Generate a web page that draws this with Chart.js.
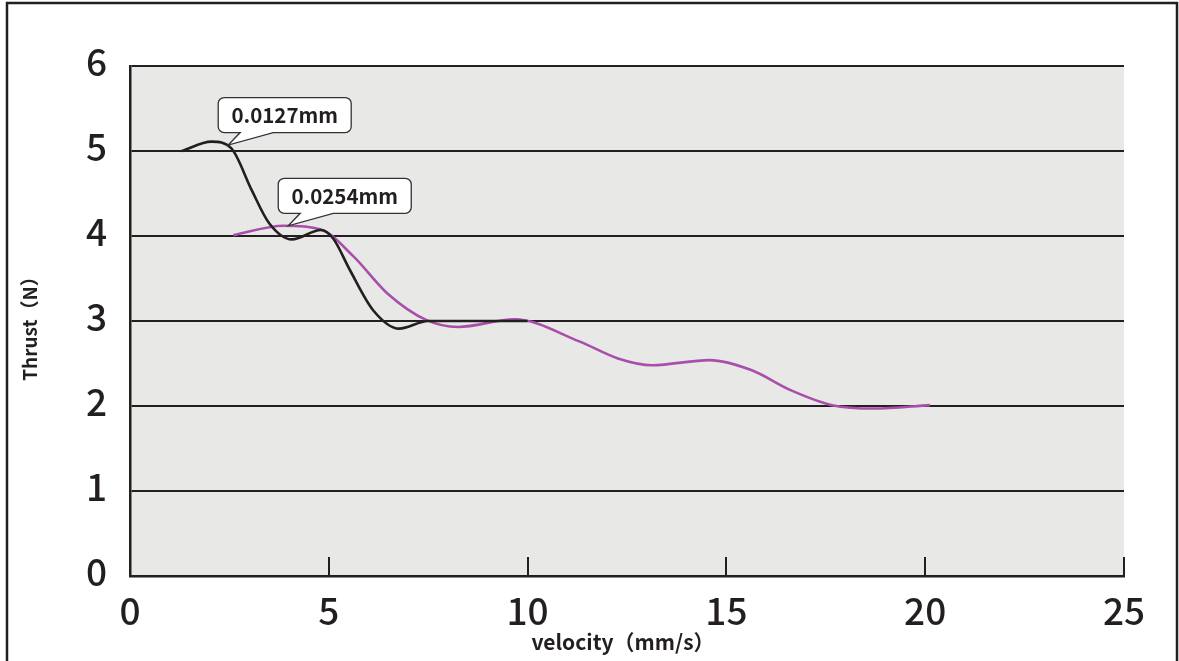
<!DOCTYPE html>
<html>
<head>
<meta charset="UTF-8">
<title>Thrust vs velocity</title>
<script src="https://cdn.jsdelivr.net/npm/chart.js"></script>
<style>
  html, body { margin: 0; padding: 0; background: #ffffff; }
  #wrap { width: 1179px; height: 661px; position: relative; }
</style>
</head>
<body>
<div id="wrap"><canvas id="chart" width="1179" height="661"></canvas></div>
<script>
// data
const seriesNames = ['0.0127mm', '0.0254mm'];
const blackX = [1.3, 2.05, 2.55, 3.06, 3.5, 4.07, 4.8, 5.11, 5.53, 6.11, 6.77, 7.5, 10.0];
const blackY = [5.0, 5.11, 5.03, 4.54, 4.15, 3.96, 4.07, 3.97, 3.6, 3.13, 2.91, 3.0, 3.0];
const purpleX = [2.6, 3.86, 4.78, 5.62, 6.46, 7.46, 8.25, 9.67, 11.3, 12.27, 13.13, 14.58, 15.64, 16.6, 17.66, 18.72, 20.12];
const purpleY = [4.01, 4.12, 4.08, 3.76, 3.33, 3.01, 2.93, 3.02, 2.76, 2.56, 2.48, 2.54, 2.42, 2.19, 2.01, 1.97, 2.01];
const xTicks = [0, 5, 10, 15, 20, 25];
const yTicks = [0, 1, 2, 3, 4, 5, 6];
const xTitle = 'velocity（mm/s）';
const yTitle = 'Thrust（N）';
// callout anchors (data coords where the pointer touches the curve)
const calloutX = [2.47, 3.98];
const calloutY = [5.07, 4.12];

const INK = '#231f20';
const PURPLE = '#a94fab';
const FONT = "'Noto Sans CJK JP', 'Noto Sans', sans-serif";

function pts(xs, ys) { return xs.map((x, i) => ({ x: x, y: ys[i] })); }

const framePlugin = {
  id: 'frame',
  beforeDraw(chart) {
    const { ctx, chartArea: a } = chart;
    ctx.save();
    ctx.fillStyle = '#e8e9e6';
    ctx.fillRect(a.left, a.top, a.right - a.left, a.bottom - a.top);
    ctx.strokeStyle = INK;
    ctx.lineWidth = 2.5;
    ctx.strokeRect(7, 3, chart.width - 9, chart.height + 20);
    ctx.restore();
  },
  afterDraw(chart) {
    const { ctx, chartArea: a } = chart;
    const xs = chart.scales.x;
    ctx.save();
    // inward tick marks on the x axis
    ctx.strokeStyle = INK;
    ctx.lineWidth = 2;
    xTicks.slice(1).forEach(v => {
      const px = Math.round(xs.getPixelForValue(v));
      ctx.beginPath();
      ctx.moveTo(px, a.bottom);
      ctx.lineTo(px, a.bottom - 19);
      ctx.stroke();
    });
    // axis titles
    ctx.fillStyle = INK;
    ctx.textAlign = 'center';
    ctx.textBaseline = 'middle';
    ctx.font = '600 21px ' + FONT;
    ctx.fillText(xTitle, (a.left + a.right) / 2 - 4, 642);
    ctx.translate(30, (a.top + a.bottom) / 2 + 3);
    ctx.rotate(-Math.PI / 2);
    ctx.font = '600 19px ' + FONT;
    ctx.fillText(yTitle, 0, 0);
    ctx.restore();
  }
};

const calloutPlugin = {
  id: 'callouts',
  afterDatasetsDraw(chart) {
    const { ctx } = chart;
    const xs = chart.scales.x, ys = chart.scales.y;
    ctx.save();
    ctx.font = '600 20.5px ' + FONT;
    seriesNames.forEach((name, i) => {
      const tx = xs.getPixelForValue(calloutX[i]);
      const ty = ys.getPixelForValue(calloutY[i]);
      const w = 133, h = 35, r = 6;
      const left = tx - 10, bottom = ty - 12.5, top = bottom - h;
      const b1 = tx + 12, b2 = tx + 45;
      ctx.beginPath();
      ctx.moveTo(left + r, top);
      ctx.lineTo(left + w - r, top);
      ctx.arcTo(left + w, top, left + w, top + r, r);
      ctx.lineTo(left + w, bottom - r);
      ctx.arcTo(left + w, bottom, left + w - r, bottom, r);
      ctx.lineTo(b2, bottom);
      ctx.lineTo(tx, ty);
      ctx.lineTo(b1, bottom);
      ctx.lineTo(left + r, bottom);
      ctx.arcTo(left, bottom, left, bottom - r, r);
      ctx.lineTo(left, top + r);
      ctx.arcTo(left, top, left + r, top, r);
      ctx.closePath();
      ctx.fillStyle = '#ffffff';
      ctx.fill();
      ctx.strokeStyle = '#333333';
      ctx.lineWidth = 1.3;
      ctx.stroke();
      ctx.fillStyle = INK;
      ctx.textAlign = 'center';
      ctx.textBaseline = 'middle';
      ctx.fillText(name, left + w / 2, top + h / 2);
    });
    ctx.restore();
  }
};

new Chart(document.getElementById('chart'), {
  type: 'scatter',
  data: {
    datasets: [
      {
        label: seriesNames[0],
        data: pts(blackX, blackY),
        showLine: true,
        borderColor: INK,
        borderWidth: 2.6,
        pointRadius: 0,
        cubicInterpolationMode: 'monotone',
        fill: false
      },
      {
        label: seriesNames[1],
        data: pts(purpleX, purpleY),
        showLine: true,
        borderColor: PURPLE,
        borderWidth: 2.6,
        pointRadius: 0,
        cubicInterpolationMode: 'monotone',
        fill: false
      }
    ]
  },
  options: {
    responsive: false,
    animation: false,
    layout: { padding: { left: 0, top: 66, right: 55, bottom: 0 } },
    plugins: {
      legend: { display: false },
      tooltip: { enabled: false }
    },
    scales: {
      x: {
        type: 'linear',
        min: 0, max: 25,
        afterBuildTicks(s) { s.ticks = xTicks.map(v => ({ value: v })); },
        afterFit(s) { s.height = 85; },
        grid: { display: false, drawTicks: false },
        border: { display: true, color: INK, width: 2.5 },
        ticks: { color: INK, padding: 13, font: { family: FONT, size: 37, weight: '500' } },
        title: { display: false }
      },
      y: {
        min: 0, max: 6,
        afterBuildTicks(s) { s.ticks = yTicks.map(v => ({ value: v })); },
        afterFit(s) { s.width = 130; },
        grid: { color: INK, lineWidth: 2, drawTicks: false },
        border: { display: true, color: INK, width: 2.5 },
        ticks: { color: INK, padding: 23, labelOffset: -4, font: { family: FONT, size: 37, weight: '500' } },
        title: { display: false }
      }
    }
  },
  plugins: [framePlugin, calloutPlugin]
});
</script>
</body>
</html>
